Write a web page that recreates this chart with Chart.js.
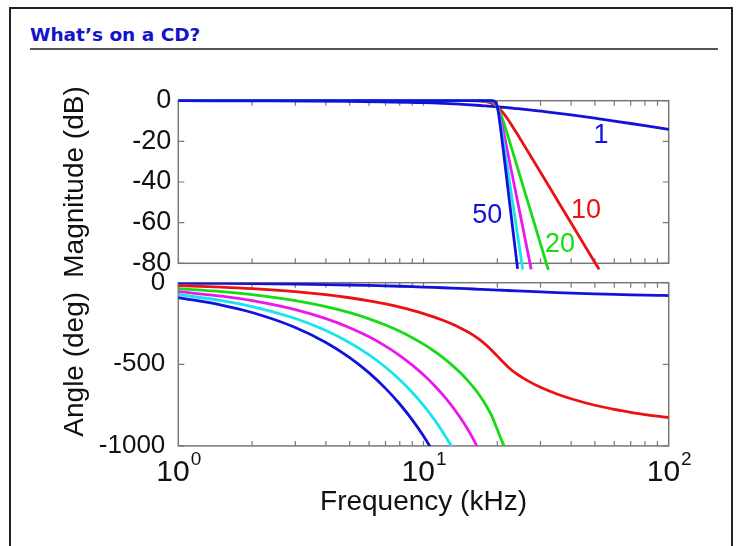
<!DOCTYPE html>
<html>
<head>
<meta charset="utf-8">
<script src="https://cdn.jsdelivr.net/npm/chart.js@4.4.1/dist/chart.umd.min.js"></script>
<style>
  html, body { margin: 0; padding: 0; background: #fff; }
  #page { position: relative; width: 742px; height: 546px; overflow: hidden; background: #fff; }
  #frame { position: absolute; left: 9px; top: 7px; width: 724px; height: 600px; border: 2px solid #222; box-sizing: border-box; }
  #title { position: absolute; left: 30px; top: 24px; font: bold 18.5px "DejaVu Sans", Verdana, sans-serif; color: #1414c8; }
  #rule { position: absolute; left: 30px; top: 48px; width: 688px; height: 2px; background: #555; }
  canvas { position: absolute; left: 0; }
  #mag { top: 0; }
  #phase { top: 240px; }
</style>
</head>
<body>
<div id="page">
  <div id="frame"></div>
  <div id="title">What’s on a CD?</div>
  <div id="rule"></div>
  <canvas id="mag" width="742" height="300"></canvas>
  <canvas id="phase" width="742" height="306"></canvas>
</div>
<script>
// filter orders, one curve each
var orders = ['1', '10', '20', '30', '40', '50'];

// magnitude (dB)
var magFreq = [1, 2, 5, 10, 15, 17, 18, 19, 19.5, 19.8, 20, 20.2, 21, 22, 23, 24, 24.2, 25, 25.4, 27, 27.5, 30, 32.3, 40, 50, 52, 60, 70, 80, 100];
var mag1  = [-0.01, -0.04, -0.26, -0.97, -1.94, -2.36, -2.58, -2.79, -2.90, -2.97, -3.01, -3.05, -3.23, -3.44, -3.66, -3.87, -3.92, -4.09, -4.17, -4.51, -4.61, -5.12, -5.57, -6.99, -8.60, -8.90, -10.00, -11.22, -12.30, -14.15];
var mag10 = [0, 0, 0, 0, -0.01, -0.17, -0.50, -1.33, -2.05, -2.60, -3.01, -3.46, -5.63, -8.88, -12.40, -15.95, -16.65, -19.43, -20.79, -26.08, -27.67, -35.22, -41.63, -60.21, -79.59, -82.99, null, null, null, null];
var mag20 = [0, 0, 0, 0, 0, -0.01, -0.06, -0.53, -1.35, -2.22, -3.01, -3.96, -9.05, -16.65, -24.30, -31.68, -33.12, -38.76, -41.52, -52.13, -55.32, -70.44, -83.27, null, null, null, null, null, null, null];
var mag30 = [0, 0, 0, 0, 0, 0, -0.01, -0.20, -0.86, -1.90, -3.01, -4.50, -12.94, -24.84, -36.42, -47.51, -49.67, -58.15, -62.28, -78.20, -82.98, null, null, null, null, null, null, null, null, null];
var mag40 = [0, 0, 0, 0, 0, 0, 0, -0.07, -0.54, -1.61, -3.01, -5.07, -17.04, -33.11, -48.56, -63.34, -66.23, -77.53, -83.04, null, null, null, null, null, null, null, null, null, null, null];
var mag50 = [0, 0, 0, 0, 0, 0, 0, -0.03, -0.33, -1.35, -3.01, -5.69, -21.22, -41.39, -60.70, -79.18, -82.78, null, null, null, null, null, null, null, null, null, null, null, null, null];

// phase (deg)
var phFreq = [1, 1.5, 2, 3, 4, 5, 6, 7, 8, 9, 10, 11, 12, 13, 14, 15, 16, 17, 18, 19, 20, 21, 22, 24, 27, 30, 35, 40, 50, 60, 70, 80, 90, 100];
var ph1  = [-2.86, -4.29, -5.71, -8.53, -11.31, -14.04, -16.70, -19.29, -21.80, -24.23, -26.57, -28.81, -30.96, -33.02, -34.99, -36.87, -38.66, -40.36, -41.99, -43.53, -45.00, -46.40, -47.73, -50.19, -53.47, -56.31, -60.26, -63.43, -68.20, -71.57, -74.05, -75.96, -77.47, -78.69];
var ph10 = [-18.3, -27.5, -36.7, -55.1, -73.6, -92.2, -111.1, -130.1, -149.4, -169.0, -189.0, -209.4, -230.4, -252.1, -274.6, -298, -323, -351, -382, -415, -450, -483, -513, -559, -606, -641, -682, -711, -751, -776, -794, -808, -818, -826];
var ph20 = [-36.5, -54.8, -73.1, -109.8, -146.7, -183.9, -221.4, -259.3, -297.7, -336.7, -376.4, -417.1, -458.7, -501.7, -546.2, -592.3, -641.7, -694.2, -752, -818, -900, -978, -1037, null, null, null, null, null, null, null, null, null, null, null];
var ph30 = [-54.8, -82.2, -109.6, -164.6, -219.9, -275.6, -331.8, -388.6, -446.2, -504.7, -564.2, -625.1, -687.5, -751.8, -818.4, -887.4, -961.1, -1039.4, null, null, null, null, null, null, null, null, null, null, null, null, null, null, null, null];
var ph40 = [-73.0, -109.5, -146.1, -219.5, -293.2, -367.4, -442.4, -518.1, -594.8, -672.8, -752.1, -833.2, -916.4, -1002.1, null, null, null, null, null, null, null, null, null, null, null, null, null, null, null, null, null, null, null, null];
var ph50 = [-91.2, -136.9, -182.6, -274.3, -366.5, -459.3, -552.9, -647.5, -743.4, -840.8, -940.0, -1041.4, null, null, null, null, null, null, null, null, null, null, null, null, null, null, null, null, null, null, null, null, null, null];

// curve labels on the magnitude plot (kHz, dB)
var tagText = ['1', '10', '20', '50'];
var tagFreq = [52.9, 46.0, 36.0, 18.2];
var tagDb = [-16.9, -54.2, -70.9, -56.7];

// axis ticks
var xTickMarks = [2, 3, 4, 5, 6, 7, 8, 9, 10, 20, 30, 40, 50, 60, 70, 80, 90];
var xTickLabels = [1, 10, 100];
var xTickExp = ['0', '1', '2'];

var colors = {'1': '#1212dc', '10': '#ea1212', '20': '#16dc16', '30': '#ee16ee', '40': '#16e4ee', '50': '#1212dc'};
var tagColors = ['#1212dc', '#ea1212', '#16dc16', '#1212dc'];
var font = '"Liberation Sans", Arial, Helvetica, sans-serif';

function pts(fs, vs) {
  var out = [];
  for (var i = 0; i < fs.length; i++) out.push({x: fs[i], y: vs[i]});
  return out;
}

function series(fs, list, extra) {
  // draw order 50 first and order 1 last, like the original
  var idx = [5, 4, 3, 2, 1, 0];
  return idx.map(function (i) {
    return Object.assign({
      label: orders[i],
      data: pts(fs, list[i]),
      borderColor: colors[orders[i]],
      borderWidth: 2.8,
      pointRadius: 0,
      fill: false,
      cubicInterpolationMode: 'monotone'
    }, extra || {});
  });
}

var boxTicks = {
  id: 'boxTicks',
  beforeDatasetsDraw: function (chart) {
    var ctx = chart.ctx, a = chart.chartArea, x = chart.scales.x, y = chart.scales.y;
    ctx.save();
    ctx.strokeStyle = '#777';
    ctx.lineWidth = 1.5;
    ctx.strokeRect(a.left, a.top, a.right - a.left, a.bottom - a.top);
    ctx.lineWidth = 1.2;
    ctx.beginPath();
    xTickMarks.forEach(function (v) {
      var px = x.getPixelForValue(v);
      ctx.moveTo(px, a.bottom); ctx.lineTo(px, a.bottom - 5);
      ctx.moveTo(px, a.top); ctx.lineTo(px, a.top + 5);
    });
    y.ticks.forEach(function (t) {
      var py = y.getPixelForValue(t.value);
      ctx.moveTo(a.left, py); ctx.lineTo(a.left + 6, py);
      ctx.moveTo(a.right, py); ctx.lineTo(a.right - 6, py);
    });
    ctx.stroke();
    ctx.restore();
  }
};

var curveTags = {
  id: 'curveTags',
  afterDatasetsDraw: function (chart) {
    var ctx = chart.ctx, x = chart.scales.x, y = chart.scales.y;
    ctx.save();
    ctx.font = '27px ' + font;
    ctx.textAlign = 'center';
    ctx.textBaseline = 'middle';
    tagText.forEach(function (t, i) {
      ctx.fillStyle = tagColors[i];
      ctx.fillText(t, x.getPixelForValue(tagFreq[i]), y.getPixelForValue(tagDb[i]));
    });
    ctx.restore();
  }
};

var powerLabels = {
  id: 'powerLabels',
  afterDraw: function (chart) {
    var ctx = chart.ctx, x = chart.scales.x, a = chart.chartArea;
    ctx.save();
    ctx.fillStyle = '#111';
    ctx.textBaseline = 'alphabetic';
    ctx.textAlign = 'left';
    xTickLabels.forEach(function (v, i) {
      ctx.font = '30px ' + font;
      var w1 = ctx.measureText('10').width;
      ctx.font = '19px ' + font;
      var w2 = ctx.measureText(xTickExp[i]).width;
      var left = x.getPixelForValue(v) - (w1 + w2) / 2;
      ctx.font = '30px ' + font;
      ctx.fillText('10', left, a.bottom + 35);
      ctx.font = '19px ' + font;
      ctx.fillText(xTickExp[i], left + w1 + 1, a.bottom + 19);
    });
    ctx.restore();
  }
};

function yAxis(min, max, step, title, tickSize, labelPad) {
  return {
    min: min, max: max,
    grid: {display: false, drawTicks: false},
    border: {display: false},
    ticks: {
      stepSize: step, color: '#111', padding: labelPad,
      font: {family: font, size: tickSize},
      callback: function (v) { return String(v); }
    },
    title: {display: true, text: title, color: '#111', font: {family: font, size: 28}, padding: {top: 58, bottom: 0}},
    afterFit: function (s) { s.width = 178.3; }
  };
}

new Chart(document.getElementById('mag'), {
  type: 'line',
  data: {datasets: series(magFreq, [mag1, mag10, mag20, mag30, mag40, mag50], {clip: {left: 3, top: 3, right: 3, bottom: 8}})},
  options: {
    responsive: false,
    animation: false,
    events: [],
    layout: {padding: {left: 0, top: 100.7, right: 73.3, bottom: 36.7}},
    plugins: {legend: {display: false}, tooltip: {enabled: false}},
    scales: {
      x: {type: 'logarithmic', min: 1, max: 100, display: false},
      y: yAxis(-80, 0, 20, 'Magnitude (dB)', 27, 7)
    }
  },
  plugins: [boxTicks, curveTags]
});

new Chart(document.getElementById('phase'), {
  type: 'line',
  data: {datasets: series(phFreq, [ph1, ph10, ph20, ph30, ph40, ph50])},
  options: {
    responsive: false,
    animation: false,
    events: [],
    layout: {padding: {left: 0, top: 42.7, right: 73.3, bottom: 0}},
    plugins: {legend: {display: false}, tooltip: {enabled: false}},
    scales: {
      x: {
        type: 'logarithmic', min: 1, max: 100,
        grid: {display: false, drawTicks: false},
        border: {display: false},
        ticks: {display: false},
        title: {display: true, text: 'Frequency (kHz)', color: '#111', font: {family: font, size: 28}, padding: {top: 0, bottom: 27}},
        afterFit: function (s) { s.height = 100.1; }
      },
      y: yAxis(-1000, 0, 500, 'Angle (deg)', 26, 13)
    }
  },
  plugins: [boxTicks, powerLabels]
});
</script>
</body>
</html>
